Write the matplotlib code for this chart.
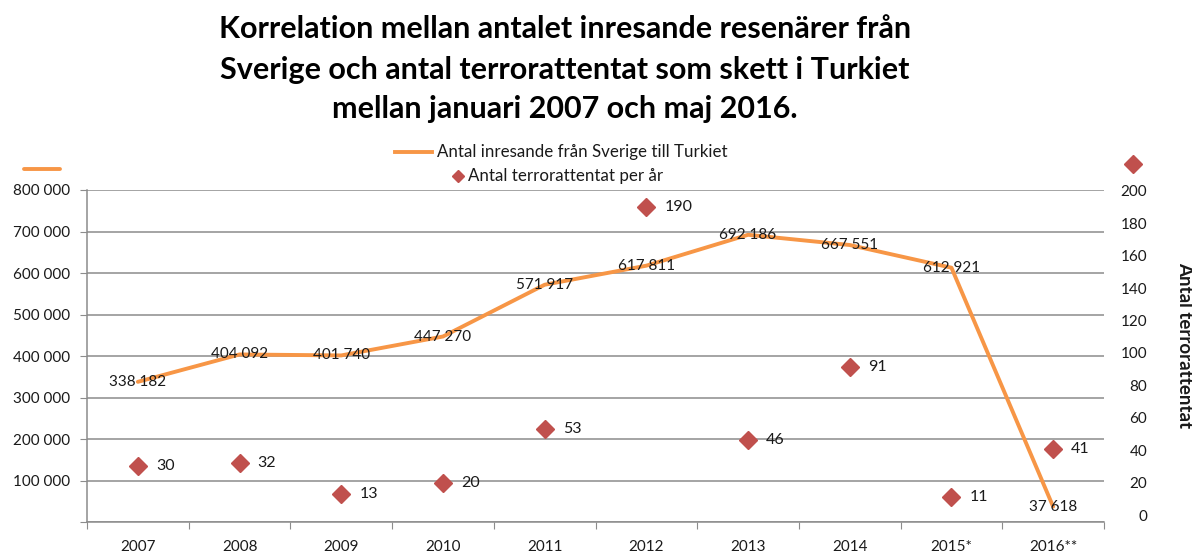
import matplotlib
matplotlib.use("Agg")
import matplotlib.pyplot as plt
from matplotlib.lines import Line2D
import numpy as np

plt.rcParams['font.family'] = ['Lato', 'DejaVu Sans']

# data
years = ['2007', '2008', '2009', '2010', '2011', '2012', '2013', '2014', '2015*', '2016**']
resenarer = [338182, 404092, 401740, 447270, 571917, 617811, 692186, 667551, 612921, 37618]
attentat = [30, 32, 13, 20, 53, 190, 46, 91, 11, 41]

title_lines = ["Korrelation mellan antalet inresande resenärer från",
               "Sverige och antal terrorattentat som skett i Turkiet",
               "mellan januari 2007 och maj 2016."]
line_label = "Antal inresande från Sverige till Turkiet"
dot_label = "Antal terrorattentat per år"
right_label = "Antal terrorattentat"

orange = '#F79646'
red = '#C0504D'
grid = '#8c8c8c'
txt = '#1a1a1a'

W, H = 1192, 556
fig = plt.figure(figsize=(W / 100, H / 100), dpi=100)
ax = fig.add_axes([87 / W, (H - 522.3) / H, (1104 - 87) / W, (522.3 - 190) / H])

x = np.arange(len(years))

# left axis
ax.set_xlim(-0.5, len(years) - 0.5)
ax.set_ylim(0, 800000)
yt = np.arange(0, 800001, 100000)
ax.set_yticks(yt)
ax.set_yticklabels([''] + [f"{v:,}".replace(",", " ") for v in yt[1:]])
ax.yaxis.grid(True, color=grid, lw=1.1)
ax.set_axisbelow(True)
for s in ['top', 'right']:
    ax.spines[s].set_visible(False)
ax.spines['left'].set_color(grid)
ax.spines['bottom'].set_color(grid)
ax.spines['left'].set_linewidth(1.1)
ax.spines['bottom'].set_linewidth(1.1)
ax.tick_params(axis='y', length=5, color=grid, labelsize=11, labelcolor=txt, pad=7)

# x axis: ticks at boundaries, labels at centers
ax.set_xticks(np.arange(-0.5, len(years)), minor=False)
ax.set_xticklabels([])
ax.set_xticks(x, minor=True)
ax.set_xticklabels(years, minor=True)
ax.tick_params(axis='x', which='major', length=5, color=grid)
ax.tick_params(axis='x', which='minor', length=0, labelsize=11, labelcolor=txt, pad=13)

ax.plot(x, resenarer, color=orange, lw=2.8, solid_capstyle='round', zorder=3)
for xi, v in zip(x, resenarer):
    ax.text(xi, v, f"{v:,}".replace(",", " "), ha='center', va='center',
            fontsize=11, color=txt, zorder=4)

# right axis
ax2 = ax.twinx()
ax2.set_ylim(-4.5, 200.5)
ax2.set_yticks(np.arange(0, 201, 20))
for s in ax2.spines.values():
    s.set_visible(False)
ax2.tick_params(axis='y', length=0, labelsize=11, labelcolor=txt, pad=31)
for lab in ax2.get_yticklabels():
    lab.set_horizontalalignment('right')
ax2.plot(x, attentat, linestyle='none', marker='D', ms=9, color=red, zorder=3)
for xi, v in zip(x, attentat):
    ax2.annotate(str(v), (xi, v), xytext=(13, 0), textcoords='offset points',
                 ha='left', va='center', fontsize=11.5, color=txt)

fig.text(1185 / W, 1 - 345 / H, right_label, rotation=-90, ha='center', va='center',
         fontsize=13.5, fontweight='bold', color=txt)

# title
for t, yb in zip(title_lines, [38, 79, 118]):
    fig.text(565 / W, 1 - yb / H, t, ha='center', va='baseline',
             fontsize=22, fontweight='bold', color='black')

# legend
fig.add_artist(Line2D([395 / W, 432 / W], [1 - 152 / H, 1 - 152 / H], color=orange, lw=2.8))
fig.text(437 / W, 1 - 152 / H, line_label, ha='left', va='center', fontsize=12.2, color=txt)
fig.add_artist(Line2D([457.7 / W], [1 - 175.7 / H], marker='D', ms=6.5, color=red, linestyle='none'))
fig.text(468 / W, 1 - 175.7 / H, dot_label, ha='left', va='center', fontsize=12.2, color=txt)

# stray legend pieces
fig.add_artist(Line2D([24 / W, 60 / W], [1 - 169.3 / H, 1 - 169.3 / H], color=orange, lw=2.8,
                      solid_capstyle='round'))
fig.add_artist(Line2D([1133 / W], [1 - 164 / H], marker='D', ms=9, color=red, linestyle='none'))

fig.savefig("out.png", dpi=100)
